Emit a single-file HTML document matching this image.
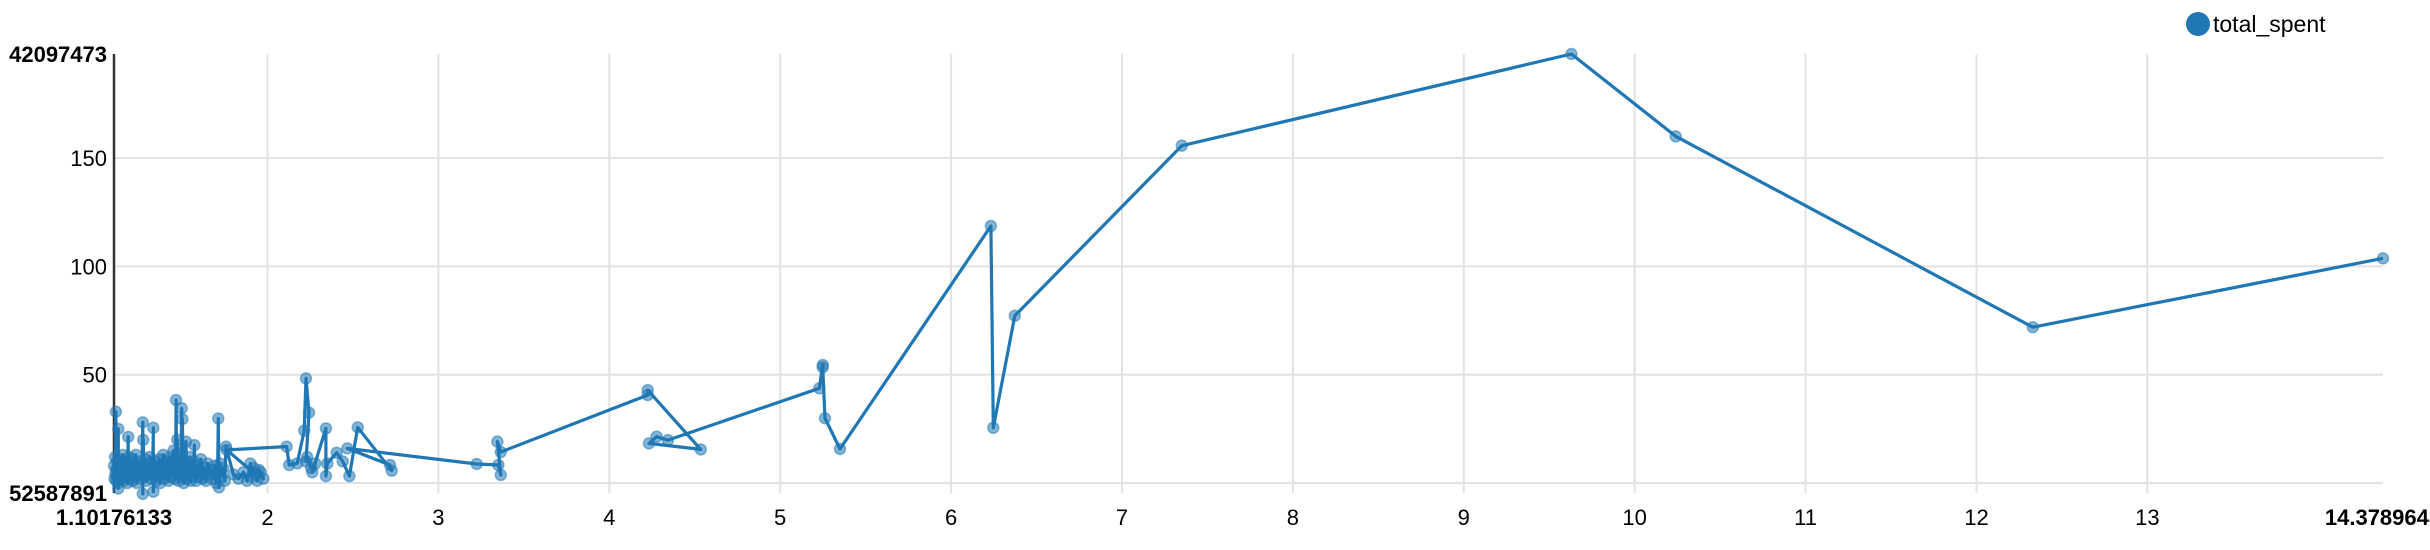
<!DOCTYPE html>
<html><head><meta charset="utf-8"><style>
html,body{margin:0;padding:0;background:#fff;}
svg{display:block;font-family:"Liberation Sans",Arial,sans-serif;}
</style></head><body>
<svg id="chart" width="2430" height="550" viewBox="0 0 2430 550" xmlns="http://www.w3.org/2000/svg">
<g id="grid"></g>
<g id="axes"></g>
<g id="series"></g>
<g>
<circle cx="2198" cy="24" r="12" fill="#1f77b4"/>
<text x="2213" y="32" font-size="23" fill="#000">total_spent</text>
</g>
</svg>
<script>
const xTicks = [2,3,4,5,6,7,8,9,10,11,12,13];
const yTicks = [50,100,150];
const xMinLabel = "1.10176133", xMaxLabel = "14.3789643";
const yMinLabel = "52587891", yMaxLabel = "42097473";
const xDomain = [1.10176133, 14.3789643];
const yDomain = [-4.6, 198];
const xValues = [1.102,1.105,1.108,1.110,1.113,1.113,1.115,1.118,1.120,1.122,1.125,1.127,1.127,1.130,1.134,1.138,1.141,1.145,1.150,1.154,1.158,1.162,1.166,1.170,1.175,1.180,1.185,1.185,1.190,1.195,1.200,1.205,1.210,1.215,1.220,1.225,1.230,1.236,1.242,1.248,1.254,1.260,1.265,1.270,1.270,1.273,1.276,1.280,1.286,1.292,1.298,1.304,1.310,1.316,1.322,1.328,1.332,1.332,1.336,1.342,1.348,1.354,1.360,1.366,1.372,1.378,1.384,1.390,1.396,1.402,1.408,1.414,1.420,1.426,1.432,1.438,1.444,1.450,1.456,1.462,1.465,1.468,1.472,1.478,1.484,1.490,1.495,1.498,1.500,1.502,1.505,1.510,1.516,1.520,1.523,1.528,1.534,1.540,1.546,1.552,1.558,1.564,1.570,1.572,1.576,1.582,1.590,1.600,1.610,1.620,1.630,1.640,1.650,1.660,1.670,1.680,1.690,1.700,1.708,1.712,1.716,1.722,1.730,1.740,1.750,1.757,1.800,1.830,1.860,1.880,1.900,1.908,1.920,1.940,1.960,1.976,1.950,1.930,1.761,
2.112,2.127,2.174,2.215,2.225,2.243,2.225,2.232,2.255,2.280,2.262,2.342,2.342,2.350,2.405,2.440,2.479,2.528,2.727,2.717,2.467,3.224,3.351,3.365,3.345,3.365,
4.225,4.225,4.535,4.232,4.277,4.343,5.229,5.249,5.249,5.262,5.350,6.233,6.247,6.373,7.350,9.630,10.240,12.330,14.3789643];
const yValues = [8,2,12,4,32.9,6,1,10,3,7,0,25,-2.5,9,5,11,2,8,4,13,1,6,10,3,9,0,21.3,5,12,2,7,11,1,6,9,3,13,0,8,4,10,2,6,28,-5,19.9,7,3,11,1,8,5,12,2,9,4,25.5,-4,6,10,1,7,3,11,0,8,5,13,2,9,4,10,1,7,12,3,8,15,2,9,38.3,4,20,1,11,6,14,34.5,3,29.5,8,0,10,5,19.1,2,9,4,12,1,7,3,10,17.5,5,1,8,3,11,2,7,1,9,4,6,2,8,0,5,29.8,-2,9,3,7,1,16.8,4,2,5,1,9,3,7,1,5,2,6,4,15.3,
16.8,8.3,9.1,24.2,48.3,32.5,10,12,7,9,5,25.2,3.2,9,14,10,3.2,25.7,5.7,8.3,16,8.8,8.3,3.7,19.1,14.3,
40.6,42.9,15.5,18.3,21.4,19.8,43.7,54.5,53.4,29.9,15.7,118.6,25.5,77.2,155.7,198,160,71.9,103.7];

const L=114,R=2383,T=54,B=493;
function xs(v){return L+(v-xDomain[0])/(xDomain[1]-xDomain[0])*(R-L);}
function ys(v){return B-(v-yDomain[0])/(yDomain[1]-yDomain[0])*(B-T);}
const NS="http://www.w3.org/2000/svg";
function mk(tag,attrs,parent){const e=document.createElementNS(NS,tag);for(const k in attrs)e.setAttribute(k,attrs[k]);parent.appendChild(e);return e;}
const grid=document.getElementById('grid'),axes=document.getElementById('axes'),series=document.getElementById('series');

[0].concat(yTicks).forEach(t=>{
  const y=ys(t);
  const l=mk('line',{x1:L,x2:R,y1:y,y2:y,stroke:'#e3e3e3','stroke-width':2},grid);
  
  
});
yTicks.forEach(t=>{
  const tx=mk('text',{x:107,y:ys(t)+8,'text-anchor':'end','font-size':22,fill:'#000'},axes);
  tx.textContent=t;
  
  
});
xTicks.forEach(t=>{
  const x=xs(t);
  const l=mk('line',{x1:x,x2:x,y1:T,y2:B,stroke:'#e3e3e3','stroke-width':2},grid);
  
  
  const tx=mk('text',{x:x,y:525,'text-anchor':'middle','font-size':22,fill:'#000'},axes);
  tx.textContent=t;
  
  
});
let e;
e=mk('line',{x1:L,x2:L,y1:T,y2:B,stroke:'#333','stroke-width':2.5},axes);


e=mk('text',{x:107,y:T+8,'text-anchor':'end','font-size':22,'font-weight':'bold',fill:'#000'},axes);e.textContent=yMaxLabel;


e=mk('text',{x:107,y:B+8,'text-anchor':'end','font-size':22,'font-weight':'bold',fill:'#000'},axes);e.textContent=yMinLabel;


e=mk('text',{x:L,y:525,'text-anchor':'middle','font-size':22,'font-weight':'bold',fill:'#000'},axes);e.textContent=xMinLabel;


e=mk('text',{x:R,y:525,'text-anchor':'middle','font-size':22,'font-weight':'bold',fill:'#000'},axes);e.textContent=xMaxLabel;



const n=Math.min(xValues.length,yValues.length);
let d='';
for(let i=0;i<n;i++){d+=(i?'L':'M')+xs(xValues[i]).toFixed(1)+','+ys(yValues[i]).toFixed(1);}
for(let i=0;i<n;i++){
  const c=mk('circle',{cx:xs(xValues[i]),cy:ys(yValues[i]),r:5.5,fill:'#1f77b4','fill-opacity':0.55,stroke:'#1f77b4','stroke-opacity':0.5,'stroke-width':1.5},series);
  
  
}
e=mk('path',{d:d,fill:'none',stroke:'#1f77b4','stroke-width':3.2,'stroke-linejoin':'round'},series);


</script>
</body></html>
